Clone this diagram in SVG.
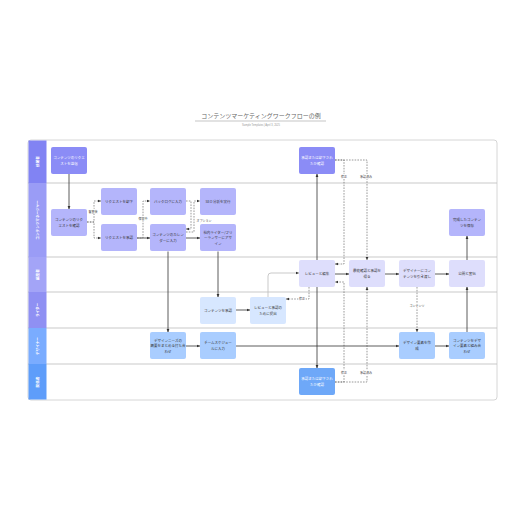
<svg xmlns="http://www.w3.org/2000/svg" width="516" height="516" viewBox="0 0 516 516">
<style>
.t{font-family:"Noto Sans CJK JP","Noto Sans",sans-serif;font-size:3.5px;text-anchor:middle;fill:#333}
.tw{fill:#fff}
.lane{stroke:#bbb;stroke-width:0.8}
.hd{font-family:"Noto Sans CJK JP","Noto Sans",sans-serif;font-size:3.6px;fill:#fff;text-anchor:middle;font-weight:bold}
.c{fill:none;stroke:#333;stroke-width:0.8;marker-end:url(#a)}
.g{fill:none;stroke:#bbb;stroke-width:0.8;marker-end:url(#a)}
.d{fill:none;stroke:#555;stroke-width:0.6;stroke-dasharray:1.6 1.2;marker-end:url(#a)}
.lb{font-family:"Noto Sans CJK JP","Noto Sans",sans-serif;font-size:3px;fill:#444;text-anchor:middle;paint-order:stroke;stroke:#fff;stroke-width:1.5}
.p1{fill:#8b8cf6}.p2{fill:#b4b5fb}.p3{fill:#dedefc}.b1{fill:#d7e7ff}.b2{fill:#a9cdff}.b3{fill:#6ea8f8}
</style>
<defs>
<marker id="a" viewBox="0 0 6 6" refX="5.5" refY="3" markerWidth="3.5" markerHeight="3.5" orient="auto" markerUnits="userSpaceOnUse"><path d="M0,0.5 L6,3 L0,5.5 z" fill="#333"/></marker>
</defs>
<rect width="516" height="516" fill="#fff"/>
<g id="title">
<text x="261" y="118" style="font-family:'Noto Sans CJK JP',sans-serif;font-size:6px;fill:#666;text-anchor:middle">コンテンツマーケティングワークフローの例</text>
<line x1="195" y1="121" x2="326" y2="121" stroke="#888" stroke-width="0.5"/>
<text x="261" y="125.5" style="font-family:'Liberation Sans',sans-serif;font-size:2.6px;fill:#999;text-anchor:middle">Sample Templates  |  April 3, 2025</text>
</g>
<g id="frame">
<rect x="28" y="140" width="469" height="260" rx="3" fill="#fff" stroke="#ccc" stroke-width="0.8"/>
<line class="lane" x1="28" y1="183" x2="497" y2="183"/>
<line class="lane" x1="28" y1="257" x2="497" y2="257"/>
<line class="lane" x1="28" y1="292" x2="497" y2="292"/>
<line class="lane" x1="28" y1="328" x2="497" y2="328"/>
<line class="lane" x1="28" y1="364" x2="497" y2="364"/>
</g>
<g id="lanes">
<rect x="28.5" y="140.5" width="18" height="42.5" fill="#8183f3"/>
<text class="hd" transform="translate(38.5,161.5) rotate(-90)">依頼者</text>
<rect x="28.5" y="183" width="18" height="74" fill="#9a9cf6"/>
<text class="hd" transform="translate(38.5,220) rotate(-90)">コンテンツマネージャー</text>
<rect x="28.5" y="257" width="18" height="35" fill="#a3a4f7"/>
<text class="hd" transform="translate(38.5,274.5) rotate(-90)">編集者</text>
<rect x="28.5" y="292" width="18" height="36" fill="#8f90f3"/>
<text class="hd" transform="translate(38.5,310) rotate(-90)">ライター</text>
<rect x="28.5" y="328" width="18" height="36" fill="#7aacff"/>
<text class="hd" transform="translate(38.5,346) rotate(-90)">デザイナー</text>
<rect x="28.5" y="364" width="18" height="35.5" fill="#5e9dfa"/>
<text class="hd" transform="translate(38.5,382) rotate(-90)">関係者</text>
</g>
<g id="connectors">
<path class="c" d="M69,174 V209"/>
<path class="d" d="M87,222 H94 V201 H101"/>
<path class="d" d="M87,222 H94 V238 H101"/>
<path class="c" d="M137,238 H150"/>
<path class="d" d="M137,238 H143 V201 H150"/>
<path class="d" d="M186,201 H191 V229 H186"/>
<path class="d" d="M186,232 H194 V201 H200"/>
<path class="c" d="M186,238 H200"/>
<path class="c" d="M168,251.5 V332"/>
<path class="c" d="M218,251.5 V297"/>
<path class="c" d="M236,310 H250"/>
<path class="g" d="M268,297 V276 Q268,273 271,273 H299"/>
<path class="d" d="M309,287 V299 H286"/>
<path class="c" d="M317,260 V174"/>
<path class="c" d="M317,287 V368"/>
<path class="d" d="M335,160 H344 V264 H335"/>
<path class="d" d="M335,160 H367 V260"/>
<path class="d" d="M335,382 H344 V282 H335"/>
<path class="d" d="M335,382 H367 V287"/>
<path class="c" d="M335,274 H349"/>
<path class="c" d="M385,274 H399"/>
<path class="c" d="M435,274 H449"/>
<path class="d" d="M417,287 V332"/>
<path class="c" d="M186,346 H200"/>
<path class="c" d="M236,346 H399"/>
<path class="c" d="M435,346 H449"/>
<path class="c" d="M467,332 V287"/>
<path class="c" d="M467,260 V236"/>
<text class="lb" x="93" y="213">審査後</text>
<text class="lb" x="143" y="220">保留中</text>
<text class="lb" x="204" y="222">オプション</text>
<text class="lb" x="302" y="300">修正</text>
<text class="lb" x="344" y="178">修正</text>
<text class="lb" x="366" y="178">承認済み</text>
<text class="lb" x="344" y="374">修正</text>
<text class="lb" x="366" y="374">承認済み</text>
<text class="lb" x="417" y="307">コンテンツ</text>
</g>
<g id="n1"><rect class="p1" x="51" y="147" width="36" height="27" rx="2"/><text class="t tw" x="69" y="159">コンテンツのリクエ</text><text class="t tw" x="69" y="164.5">ストを送信</text></g>
<g id="n2"><rect class="p2" x="51" y="209" width="36" height="27" rx="2"/><text class="t" x="69" y="221">コンテンツのリク</text><text class="t" x="69" y="226.5">エストを確認</text></g>
<g id="n3"><rect class="p2" x="101" y="188" width="36" height="27" rx="2"/><text class="t" x="119" y="202.5">リクエストを却下</text></g>
<g id="n4"><rect class="p2" x="101" y="224" width="36" height="27" rx="2"/><text class="t" x="119" y="239">リクエストを承認</text></g>
<g id="n5"><rect class="p2" x="150" y="188" width="36" height="27" rx="2"/><text class="t" x="168" y="202.5">バックログに入力</text></g>
<g id="n6"><rect class="p2" x="150" y="224" width="36" height="27" rx="2"/><text class="t" x="168" y="236">コンテンツのカレン</text><text class="t" x="168" y="241.5">ダーに入力</text></g>
<g id="n7"><rect class="p2" x="200" y="188" width="36" height="27" rx="2"/><text class="t" x="218" y="202.5">SEO 分析を実行</text></g>
<g id="n8"><rect class="p2" x="200" y="224" width="36" height="27" rx="2"/><text class="t" x="218" y="233.5">社内ライター/フリ</text><text class="t" x="218" y="239">ーランサーにアサ</text><text class="t" x="218" y="244.5">イン</text></g>
<g id="n9"><rect class="p1" x="299" y="147" width="36" height="27" rx="2"/><text class="t tw" x="317" y="159">承認または却下され</text><text class="t tw" x="317" y="164.5">たか確認</text></g>
<g id="n10"><rect class="p2" x="449" y="209" width="36" height="27" rx="2"/><text class="t" x="467" y="221">完成したコンテン</text><text class="t" x="467" y="226.5">ツを保存</text></g>
<g id="n11"><rect class="p3" x="299" y="260" width="36" height="27" rx="2"/><text class="t" x="317" y="274.5">レビューと編集</text></g>
<g id="n12"><rect class="p3" x="349" y="260" width="36" height="27" rx="2"/><text class="t" x="367" y="272">最終確認と承認を</text><text class="t" x="367" y="277.5">得る</text></g>
<g id="n13"><rect class="p3" x="399" y="260" width="36" height="27" rx="2"/><text class="t" x="417" y="272">デザイナーにコン</text><text class="t" x="417" y="277.5">テンツを引き渡し</text></g>
<g id="n14"><rect class="p3" x="449" y="260" width="36" height="27" rx="2"/><text class="t" x="467" y="274.5">公開と宣伝</text></g>
<g id="n15"><rect class="b1" x="200" y="297" width="36" height="27" rx="2"/><text class="t" x="218" y="311.5">コンテンツを承認</text></g>
<g id="n16"><rect class="b1" x="250" y="297" width="36" height="27" rx="2"/><text class="t" x="268" y="309">レビューと承認の</text><text class="t" x="268" y="314.5">ために提出</text></g>
<g id="n17"><rect class="b2" x="150" y="332" width="36" height="27" rx="2"/><text class="t" x="168" y="341.5">デザインニーズの</text><text class="t" x="168" y="347">概要をまとめる打ち合</text><text class="t" x="168" y="352.5">わせ</text></g>
<g id="n18"><rect class="b2" x="200" y="332" width="36" height="27" rx="2"/><text class="t" x="218" y="344">チームスケジュー</text><text class="t" x="218" y="349.5">ルに入力</text></g>
<g id="n19"><rect class="b2" x="399" y="332" width="36" height="27" rx="2"/><text class="t" x="417" y="344">デザイン要素を作</text><text class="t" x="417" y="349.5">成</text></g>
<g id="n20"><rect class="b2" x="449" y="332" width="36" height="27" rx="2"/><text class="t" x="467" y="341.5">コンテンツをデザ</text><text class="t" x="467" y="347">イン要素と組み合</text><text class="t" x="467" y="352.5">わせ</text></g>
<g id="n21"><rect class="b3" x="299" y="368" width="36" height="27" rx="2"/><text class="t tw" x="317" y="380">承認または却下され</text><text class="t tw" x="317" y="385.5">たか確認</text></g>
</svg>
